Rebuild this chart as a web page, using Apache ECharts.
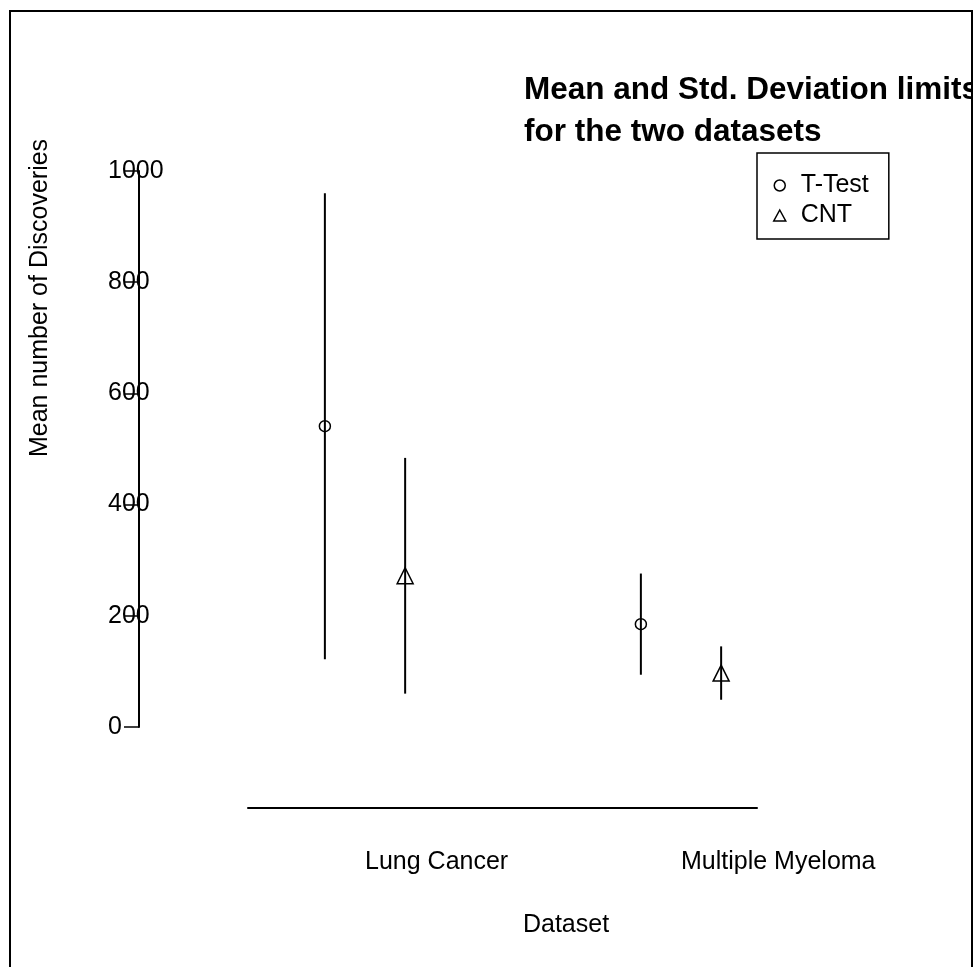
<!DOCTYPE html>
<html>
<head>
<meta charset="utf-8">
<script src="https://cdn.jsdelivr.net/npm/echarts@6/dist/echarts.min.js"></script>
<style>
  html, body { margin: 0; padding: 0; background: #fff; }
  #frame { position: absolute; left: 9px; top: 10px; width: 964px; height: 1000px;
           box-sizing: border-box; border: 2px solid #000; overflow: hidden; background: #fff; }
  #chart { position: absolute; left: -11px; top: -12px; width: 974px; height: 967px; }
</style>
</head>
<body>
<div id="frame"><div id="chart"></div></div>
<script>
// ---- data ----
const categories = ['Lung Cancer', 'Multiple Myeloma'];
const categoryPos = [1, 2];
const seriesNames = ['T-Test', 'CNT'];
const seriesSymbols = ['circle', 'triangle'];
const ttestMean = [541, 185];
const ttestSd = [419, 91];
const cntMean = [272, 97];
const cntSd = [212, 48];
const dodge = 0.127;

const FONT = '"Liberation Sans", Arial, sans-serif';
const hollow = { color: 'transparent', borderColor: '#000', borderWidth: 1.5, opacity: 1 };

function pointData(means, off) {
  return means.map((m, i) => [categoryPos[i] + off, m]);
}
function barData(means, sds, off) {
  return means.map((m, i) => [categoryPos[i] + off, m - sds[i], m + sds[i]]);
}
function errRender(params, api) {
  const p1 = api.coord([api.value(0), api.value(1)]);
  const p2 = api.coord([api.value(0), api.value(2)]);
  return { type: 'line', shape: { x1: p1[0], y1: p1[1], x2: p2[0], y2: p2[1] },
           style: { stroke: '#000', lineWidth: 2 } };
}

const chart = echarts.init(document.getElementById('chart'), null, { renderer: 'canvas' });
chart.setOption({
  animation: false,
  backgroundColor: '#fff',
  textStyle: { fontFamily: FONT },
  title: {
    text: 'Mean and Std. Deviation limits\nfor the two datasets',
    left: 519, top: 64,
    textStyle: { fontFamily: FONT, fontSize: 31.5, fontWeight: 'bold', lineHeight: 42, color: '#000' }
  },
  legend: {
    orient: 'vertical', left: 757, top: 153,
    data: seriesNames.map((n, i) => ({ name: n, icon: seriesSymbols[i], itemStyle: hollow })),
    borderColor: '#000', borderWidth: 1.5, borderRadius: 0,
    padding: [20, 20, 11, 16],
    itemWidth: 12, itemHeight: 11, itemGap: 5,
    textStyle: { fontFamily: FONT, fontSize: 25, color: '#000', padding: [0, 0, 0, 10] }
  },
  grid: { left: 248, right: 217, top: 171, bottom: 240 },
  xAxis: {
    type: 'value', min: 0.6297, max: 2.2405, offset: 81,
    axisLine: { show: true, onZero: false, lineStyle: { color: '#000', width: 2 } },
    axisTick: { show: false },
    splitLine: { show: false },
    axisLabel: {
      customValues: categoryPos,
      formatter: v => categories[Math.round(v) - 1] || '',
      align: 'left', margin: 42, fontSize: 25, color: '#000', fontFamily: FONT
    }
  },
  yAxis: {
    type: 'value', min: 0, max: 1000, interval: 200, offset: 109,
    axisLine: { show: true, onZero: false, lineStyle: { color: '#000', width: 2 } },
    axisTick: { show: true, length: 15, lineStyle: { color: '#000', width: 1.5 } },
    splitLine: { show: false },
    axisLabel: { align: 'left', margin: 31, fontSize: 25, color: '#000', fontFamily: FONT,
                 formatter: v => String(v) }
  },
  graphic: [
    { type: 'text', x: 40, y: 298, rotation: Math.PI / 2,
      style: { text: 'Mean number of Discoveries', fontFamily: FONT, fontSize: 25, fill: '#000',
               textAlign: 'center', textVerticalAlign: 'middle' } },
    { type: 'text', x: 566, y: 925,
      style: { text: 'Dataset', fontFamily: FONT, fontSize: 25, fill: '#000',
               textAlign: 'center', textVerticalAlign: 'middle' } }
  ],
  series: [
    { type: 'custom', name: 'T-Test', renderItem: errRender, data: barData(ttestMean, ttestSd, -dodge), z: 1 },
    { type: 'custom', name: 'CNT', renderItem: errRender, data: barData(cntMean, cntSd, dodge), z: 1 },
    { type: 'scatter', name: 'T-Test', symbol: seriesSymbols[0], symbolSize: 11, data: pointData(ttestMean, -dodge),
      itemStyle: hollow, z: 3 },
    { type: 'scatter', name: 'CNT', symbol: seriesSymbols[1], symbolSize: 16, data: pointData(cntMean, dodge),
      itemStyle: hollow, z: 3 }
  ]
});
</script>
</body>
</html>
